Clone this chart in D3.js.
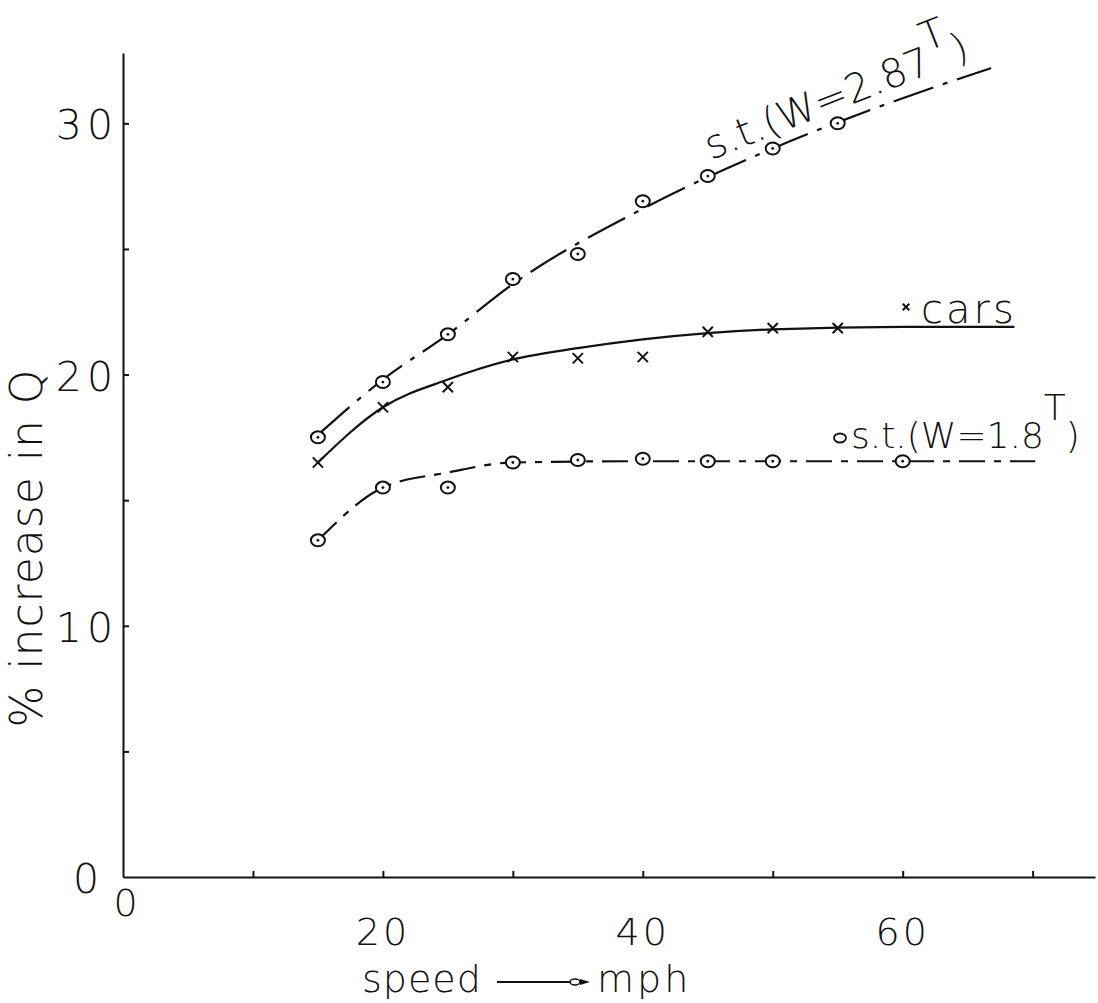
<!DOCTYPE html>
<meta charset="utf-8">
<html>
  <head>
    <title>% increase in Q vs speed</title>
    <script src="https://d3js.org/d3.v7.min.js"></script>
    <style>
      body { margin: 0; background: #fff; }
      svg { display: block; }
      text {
        font-family: "DejaVu Sans", "Noto Sans", sans-serif;
        font-weight: 200;
        fill: #111;
      }
      .axis path, .axis line { stroke: #111; stroke-width: 2px; }
    </style>
  </head>
  <body>
    <div id="chart"></div>
    <script>
      // observed points (speed in mph, % increase in Q)
      var st287Speeds = [15, 20, 25, 30, 35, 40, 45, 50, 55];
      var st287Values = [17.5, 19.7, 21.6, 23.8, 24.8, 26.9, 27.9, 29.0, 30.0];
      var carsSpeeds  = [15, 20, 25, 30, 35, 40, 45, 50, 55];
      var carsValues  = [16.5, 18.7, 19.5, 20.7, 20.65, 20.7, 21.7, 21.85, 21.85];
      var st18Speeds  = [15, 20, 25, 30, 35, 40, 45, 50, 60];
      var st18Values  = [13.4, 15.5, 15.5, 16.5, 16.6, 16.65, 16.55, 16.55, 16.55];

      // hand-fitted curves
      var st287CurveSpeeds = [15, 20, 25, 30, 40, 50, 60, 66.8];
      var st287CurveValues = [17.6, 19.8, 21.6, 23.6, 26.6, 29.0, 31.0, 32.2];
      var carsCurveSpeeds  = [15, 20, 25, 30, 35, 40, 45, 50, 60, 68.6];
      var carsCurveValues  = [16.5, 18.7, 19.8, 20.6, 21.05, 21.4, 21.65, 21.8, 21.9, 21.9];
      var st18CurveSpeeds  = [15, 20, 25, 30, 40, 50, 60, 70.2];
      var st18CurveValues  = [13.4, 15.5, 16.1, 16.5, 16.55, 16.55, 16.55, 16.55];

      var xTicks = [10, 20, 30, 40, 50, 60, 70];
      var yTicks = [5, 10, 15, 20, 25, 30];
      var xTickLabels = [0, 20, 40, 60];
      var yTickLabels = [0, 10, 20, 30];

      var width = 1098, height = 1003;

      var svg = d3.select("#chart").append("svg")
          .attr("width", width)
          .attr("height", height);

      var x = d3.scaleLinear().domain([0, 74.8]).range([123, 1095]);
      var y = d3.scaleLinear().domain([0, 32.8]).range([877, 53]);

      // axes, ticks pointing inward
      svg.append("g")
          .attr("class", "axis")
          .attr("transform", "translate(0," + y(0) + ")")
          .call(d3.axisBottom(x).tickValues(xTicks).tickSize(-6).tickSizeOuter(0).tickFormat(""));
      svg.append("g")
          .attr("class", "axis")
          .attr("transform", "translate(" + x(0) + ",0)")
          .call(d3.axisLeft(y).tickValues(yTicks).tickSize(-6).tickSizeOuter(0).tickFormat(""));

      // tick labels
      svg.selectAll(".xlab").data(xTickLabels).enter().append("text")
          .attr("class", "xlab")
          .attr("x", function(d) { return d == 0 ? x(d) + 4 : x(d); })
          .attr("y", function(d) { return d == 0 ? 916 : 945; })
          .attr("text-anchor", "middle")
          .style("font-size", "38px")
          .style("letter-spacing", "3px")
          .text(function(d) { return d; });

      svg.selectAll(".ylab").data(yTickLabels).enter().append("text")
          .attr("class", "ylab")
          .attr("x", function(d) { return d == 0 ? 104 : 118; })
          .attr("y", function(d) { return y(d) + 16; })
          .attr("text-anchor", "end")
          .style("font-size", "41px")
          .style("letter-spacing", "5px")
          .text(function(d) { return d; });

      // axis titles
      svg.append("text")
          .attr("transform", "translate(42,548) rotate(-90)")
          .attr("text-anchor", "middle")
          .style("font-size", "44px")
          .style("letter-spacing", "1px")
          .text("% increase in Q");

      svg.append("text")
          .attr("x", 362).attr("y", 992)
          .style("font-size", "38px")
          .style("letter-spacing", "1px")
          .text("speed");
      svg.append("text")
          .attr("x", 597).attr("y", 992)
          .style("font-size", "38px")
          .style("letter-spacing", "3px")
          .text("mph");
      // arrow between "speed" and "mph"
      svg.append("line")
          .attr("x1", 497).attr("x2", 572).attr("y1", 982).attr("y2", 982)
          .attr("stroke", "#111").attr("stroke-width", 2);
      svg.append("ellipse")
          .attr("cx", 575).attr("cy", 982).attr("rx", 5).attr("ry", 3)
          .attr("fill", "#fff").attr("stroke", "#111").attr("stroke-width", 1.5);
      svg.append("path")
          .attr("d", "M580,979L590,982L580,985Z")
          .attr("fill", "#111");

      // fitted curves
      var line = d3.line()
          .x(function(d) { return x(d[0]); })
          .y(function(d) { return y(d[1]); })
          .curve(d3.curveMonotoneX);

      function drawCurve(speeds, values, dash) {
        svg.append("path")
            .datum(d3.zip(speeds, values))
            .attr("d", line)
            .attr("fill", "none")
            .attr("stroke", "#111")
            .attr("stroke-width", 2.2)
            .attr("stroke-dasharray", dash);
      }
      drawCurve(st287CurveSpeeds, st287CurveValues, "42,10,5,10");
      drawCurve(carsCurveSpeeds, carsCurveValues, null);
      drawCurve(st18CurveSpeeds, st18CurveValues, "26,9,7,9");

      // circle markers with a dot in the middle
      function drawCircles(speeds, values) {
        var g = svg.append("g");
        var pts = d3.zip(speeds, values);
        g.selectAll("ellipse").data(pts).enter().append("ellipse")
            .attr("cx", function(d) { return x(d[0]); })
            .attr("cy", function(d) { return y(d[1]); })
            .attr("rx", 7).attr("ry", 6)
            .attr("fill", "#fff")
            .attr("stroke", "#111")
            .attr("stroke-width", 2);
        g.selectAll("circle").data(pts).enter().append("circle")
            .attr("cx", function(d) { return x(d[0]); })
            .attr("cy", function(d) { return y(d[1]); })
            .attr("r", 1.4)
            .attr("fill", "#111");
      }
      drawCircles(st287Speeds, st287Values);
      drawCircles(st18Speeds, st18Values);

      var cross = d3.symbol().type(d3.symbolTimes).size(70);
      svg.append("g").selectAll("path").data(d3.zip(carsSpeeds, carsValues)).enter().append("path")
          .attr("d", cross)
          .attr("transform", function(d) { return "translate(" + x(d[0]) + "," + y(d[1]) + ")"; })
          .attr("fill", "none")
          .attr("stroke", "#111")
          .attr("stroke-width", 2);

      // curve labels
      var lab287 = svg.append("text")
          .attr("transform", "translate(711,160) rotate(-21.5)")
          .style("font-size", "40px");
      lab287.append("tspan").text("s.t.(W=2.87");
      lab287.append("tspan").attr("dy", -22).text("T");
      lab287.append("tspan").attr("dy", 22).text(")");

      svg.append("path")
          .attr("d", d3.symbol().type(d3.symbolTimes).size(30))
          .attr("transform", "translate(906,307)")
          .attr("fill", "none").attr("stroke", "#111").attr("stroke-width", 2);
      svg.append("text")
          .attr("x", 921).attr("y", 323)
          .style("font-size", "40px")
          .style("letter-spacing", "3px")
          .text("cars");

      svg.append("ellipse")
          .attr("cx", 840).attr("cy", 438).attr("rx", 6).attr("ry", 4.5)
          .attr("fill", "#fff").attr("stroke", "#111").attr("stroke-width", 1.8);
      var lab18 = svg.append("text")
          .attr("x", 851).attr("y", 448)
          .style("font-size", "36px");
      lab18.append("tspan").text("s.t.(W=1.8");
      lab18.append("tspan").attr("dy", -28).text("T");
      lab18.append("tspan").attr("dy", 28).text(")");
    </script>
  </body>
</html>
